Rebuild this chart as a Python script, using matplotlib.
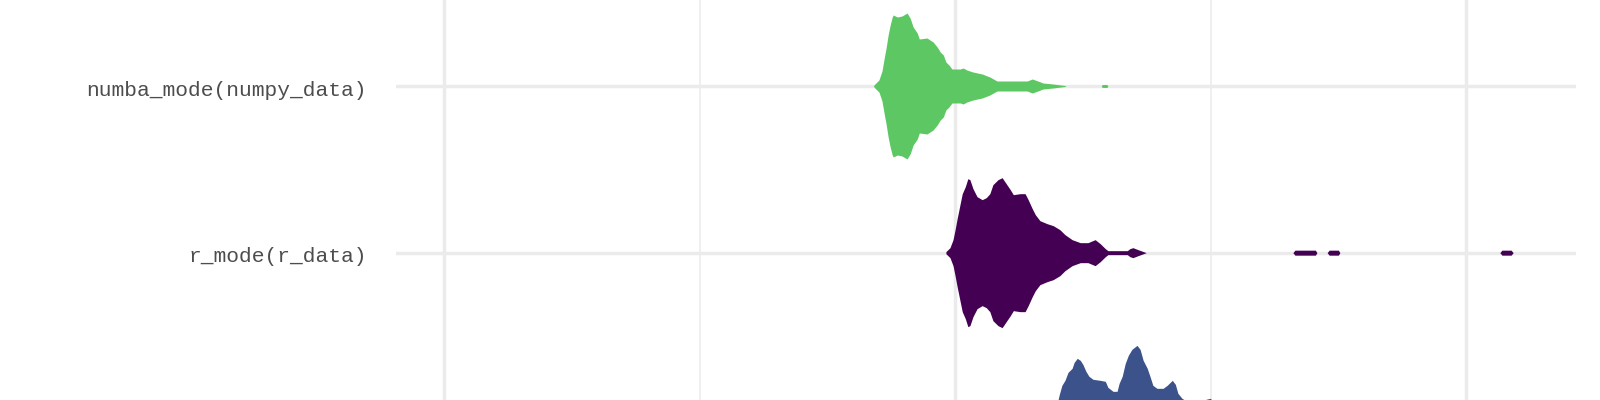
import matplotlib
matplotlib.use("Agg")
import matplotlib.pyplot as plt
import matplotlib.transforms as mtransforms

# categories, top to bottom (label of the third one is cut off in the picture)
labels = ["numba_mode(numpy_data)", "r_mode(r_data)"]
colors = ["#5DC863", "#440154", "#3B528B"]

# violin outlines: x is log10(time), w is relative half-width
numba_x = [1.840, 1.843, 1.851, 1.857, 1.861, 1.865, 1.869, 1.873, 1.877, 1.879,
           1.887, 1.896, 1.906, 1.912, 1.918, 1.926, 1.930, 1.945, 1.957, 1.965,
           1.971, 1.977, 1.982, 1.988, 1.994, 2.010, 2.016, 2.023, 2.035, 2.053,
           2.068, 2.082, 2.102, 2.127, 2.141, 2.151, 2.162, 2.172, 2.192, 2.215,
           2.217, 2.286, 2.288, 2.297, 2.299]
numba_w = [0, 2, 6, 15, 27, 38, 51, 61, 69, 71,
           69, 70, 73, 68, 59, 53, 47, 48, 44, 39,
           34, 31, 24, 21, 17, 17, 18, 16, 14, 12,
           9, 5, 5, 5, 5, 7, 5, 3, 2, 0.5,
           0, 0, 1.5, 1.5, 0]

r_x = [1.982, 1.990, 1.996, 2.000, 2.004, 2.010, 2.014, 2.020, 2.025, 2.029,
       2.035, 2.043, 2.053, 2.061, 2.068, 2.074, 2.084, 2.092, 2.100, 2.108,
       2.114, 2.127, 2.137, 2.143, 2.151, 2.157, 2.166, 2.180, 2.192, 2.205,
       2.215, 2.229, 2.245, 2.260, 2.274, 2.284, 2.294, 2.299, 2.337, 2.342,
       2.348, 2.358, 2.374, 2.661, 2.665, 2.705, 2.708, 2.728, 2.732, 2.750,
       2.753, 3.066, 3.070, 3.088, 3.092]
r_w = [1, 5, 13, 23, 34, 49, 59, 66, 74, 73,
       64, 56, 53, 55, 59, 68, 73, 75, 69, 63,
       58, 59, 59, 53, 44, 38, 32, 29, 27, 23,
       18, 13, 10, 10, 13, 9, 4, 2, 2, 4,
       5, 3, 0, 0, 2.5, 2.5, 0, 0, 2.5, 2.5,
       0, 0, 2.5, 2.5, 0]

third_x = [2.194, 2.198, 2.204, 2.209, 2.215, 2.221, 2.229, 2.233, 2.239, 2.245,
           2.250, 2.256, 2.262, 2.270, 2.284, 2.294, 2.299, 2.309, 2.317, 2.321,
           2.327, 2.333, 2.339, 2.346, 2.356, 2.362, 2.368, 2.376, 2.382, 2.387,
           2.395, 2.407, 2.415, 2.425, 2.431, 2.436, 2.444, 2.460, 2.479, 2.491,
           2.499, 2.509, 2.558, 2.636, 2.734, 2.871, 2.969, 3.106]
third_w = [0, 12, 25, 34, 39, 47, 51, 57, 61, 59,
           55, 48, 43, 40, 39, 38, 32, 28, 28, 36,
           43, 56, 64, 70, 74, 70, 59, 51, 42, 34,
           31, 31, 34, 39, 35, 26, 21, 16, 15, 20,
           21, 17, 10, 5, 3, 2, 1, 0]

violins = [(numba_x, numba_w), (r_x, r_w), (third_x, third_w)]

fig = plt.figure(figsize=(16, 4), dpi=100)
ax = fig.add_axes([396 / 1600, 0, 1180 / 1600, 1])

scale = 1 / 166.7
for i, (xs, ws) in enumerate(violins):
    lo = [i - w * scale for w in ws]
    hi = [i + w * scale for w in ws]
    ax.fill_between(xs, lo, hi, color=colors[i], linewidth=0, zorder=3)

ax.set_xlim(0.906, 3.215)
ax.set_ylim(1.884, -0.516)

ax.set_xticks([1, 2, 3])
ax.set_xticks([1.5, 2.5], minor=True)
ax.set_yticks([0, 1])
ax.set_yticklabels(labels, family=["Liberation Mono", "DejaVu Sans Mono"],
                   fontsize=15.3, color="#4D4D4D")
ax.tick_params(axis="y", length=0, pad=21)
ax.tick_params(axis="x", which="both", length=0, labelbottom=False)

# nudge labels down a little, as in the original
shift = mtransforms.ScaledTranslation(0, -2 / 100, fig.dpi_scale_trans)
for t in ax.get_yticklabels():
    t.set_transform(t.get_transform() + shift)

ax.grid(True, which="major", color="#EBEBEB", linewidth=2.5, zorder=0)
ax.grid(True, which="minor", axis="x", color="#EBEBEB", linewidth=1.1, zorder=0)
ax.set_axisbelow(True)
for s in ax.spines.values():
    s.set_visible(False)

plt.savefig("out.png", dpi=100)
